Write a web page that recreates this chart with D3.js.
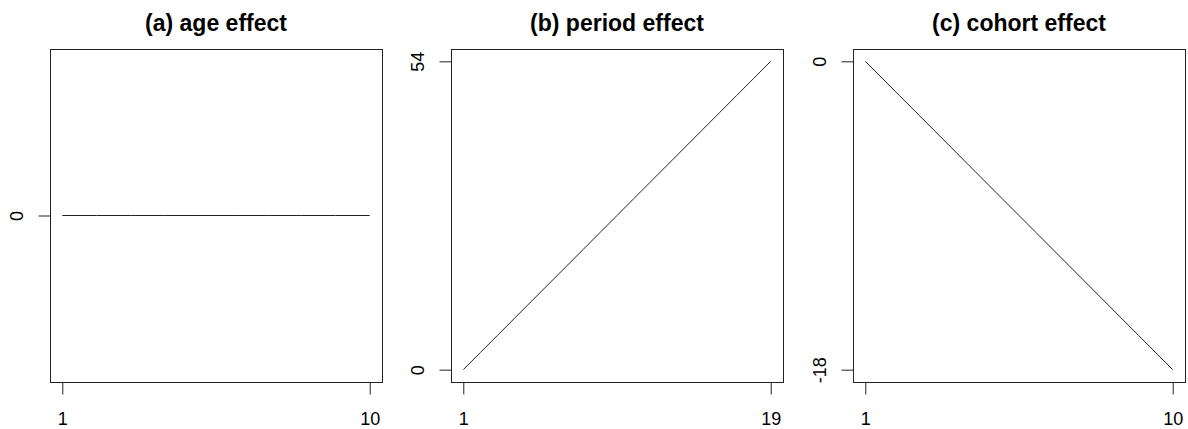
<!DOCTYPE html>
<html>
<head>
<meta charset="utf-8">
<script src="https://cdn.jsdelivr.net/npm/d3@7"></script>
<style>
  html, body { margin: 0; padding: 0; background: #fff; }
  svg { display: block; font-family: "Liberation Sans", Arial, sans-serif; }
</style>
</head>
<body>
<svg id="chart" width="1188" height="429"></svg>
<script>
// Age-period-cohort effects
const ageX = [1, 2, 3, 4, 5, 6, 7, 8, 9, 10];
const ageY = [0, 0, 0, 0, 0, 0, 0, 0, 0, 0];
const periodX = [1, 2, 3, 4, 5, 6, 7, 8, 9, 10, 11, 12, 13, 14, 15, 16, 17, 18, 19];
const periodY = [0, 3, 6, 9, 12, 15, 18, 21, 24, 27, 30, 33, 36, 39, 42, 45, 48, 51, 54];
const cohortX = [1, 2, 3, 4, 5, 6, 7, 8, 9, 10];
const cohortY = [0, -2, -4, -6, -8, -10, -12, -14, -16, -18];

const titles = ["(a) age effect", "(b) period effect", "(c) cohort effect"];
const xTicks = [[1, 10], [1, 19], [1, 10]];
const yTicks = [[0], [0, 54], [-18, 0]];

const panels = [
  { title: titles[0], xs: ageX, ys: ageY, xt: xTicks[0], yt: yTicks[0], yDom: [-1, 1] },
  { title: titles[1], xs: periodX, ys: periodY, xt: xTicks[1], yt: yTicks[1] },
  { title: titles[2], xs: cohortX, ys: cohortY, xt: xTicks[2], yt: yTicks[2] }
];

const svg = d3.select("#chart");
const boxLeft = [50, 451, 853];
const boxW = 332, boxTop = 49, boxBottom = 382;
const ink = "#222";
const fmt = d => String(d);   // plain hyphen for negatives

// R-style 4% axis expansion
function expand(dom) {
  const pad = (dom[1] - dom[0]) * 0.04;
  return [dom[0] - pad, dom[1] + pad];
}

panels.forEach((p, i) => {
  const left = boxLeft[i], right = left + boxW;
  const x = d3.scaleLinear().domain(expand(d3.extent(p.xs))).range([left, right]);
  const yd = p.yDom || d3.extent(p.ys);
  const y = d3.scaleLinear().domain(expand(yd)).range([boxBottom, boxTop]);

  const g = svg.append("g");

  // plot frame
  g.append("rect")
    .attr("x", left + 0.5).attr("y", boxTop + 0.5)
    .attr("width", boxW).attr("height", boxBottom - boxTop)
    .attr("fill", "none").attr("stroke", ink).attr("stroke-width", 1);

  // bottom axis
  const xa = g.append("g").attr("transform", `translate(0,${boxBottom + 0.5})`)
    .call(d3.axisBottom(x).tickValues(p.xt).tickSize(12).tickPadding(18).tickFormat(fmt));
  xa.select(".domain").remove();
  xa.selectAll("line").attr("stroke", ink);
  xa.selectAll("text").attr("font-size", 18).attr("fill", "#000");

  // left axis, labels rotated
  const ya = g.append("g").attr("transform", `translate(${left + 0.5},0)`)
    .call(d3.axisLeft(y).tickValues(p.yt).tickSize(12).tickFormat(fmt));
  ya.select(".domain").remove();
  ya.selectAll("line").attr("stroke", ink);
  ya.selectAll("text").remove();
  ya.selectAll(".tick").append("text")
    .attr("transform", "translate(-28,0) rotate(-90)")
    .attr("text-anchor", "middle")
    .attr("font-size", 18)
    .attr("fill", "#000")
    .text(fmt);

  // effect line
  const line = d3.line().x((d, k) => x(p.xs[k])).y(d => y(d));
  g.append("path").datum(p.ys)
    .attr("d", line)
    .attr("fill", "none").attr("stroke", ink).attr("stroke-width", 1);

  // panel title
  g.append("text")
    .attr("x", (left + right) / 2).attr("y", 31)
    .attr("text-anchor", "middle")
    .attr("font-size", 23).attr("font-weight", "bold")
    .attr("fill", "#000")
    .text(p.title);
});
</script>
</body>
</html>
